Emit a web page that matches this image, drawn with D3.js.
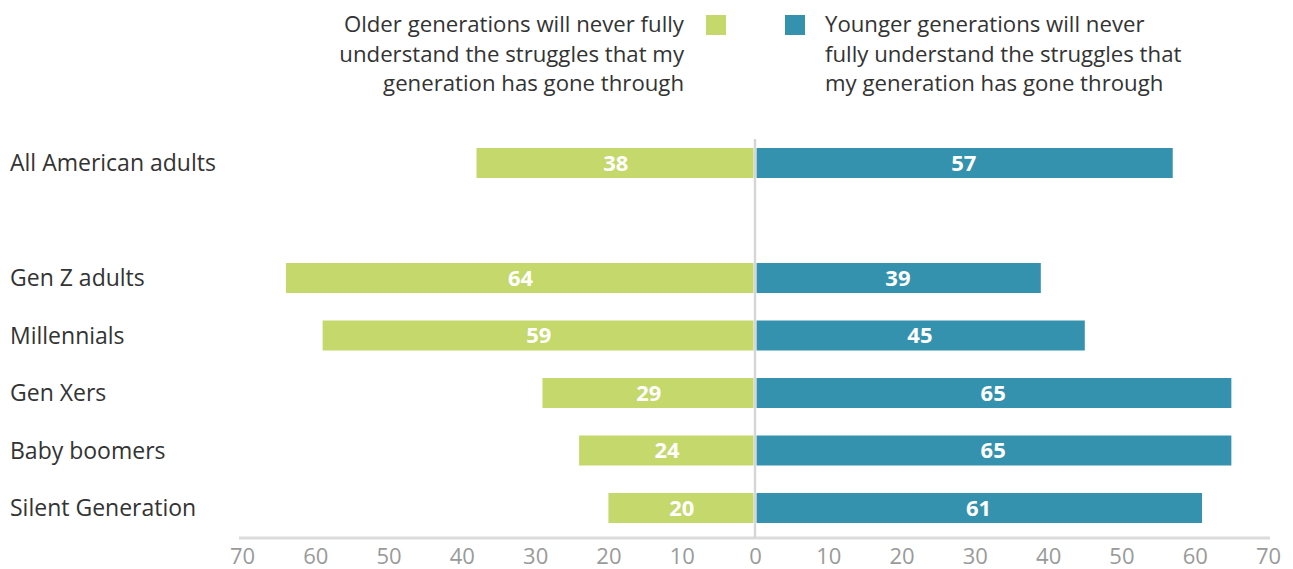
<!DOCTYPE html>
<html>
<head>
<meta charset="utf-8">
<script src="https://cdn.jsdelivr.net/npm/d3@7"></script>
<style>
  body { margin: 0; background: #fff; }
  svg { font-family: "Open Sans", "DejaVu Sans", sans-serif; }
</style>
</head>
<body>
<svg id="chart" width="1293" height="569"></svg>
<script>
// DATA
var categories = ["All American adults", "Gen Z adults", "Millennials", "Gen Xers", "Baby boomers", "Silent Generation"];
var olderValues = [38, 64, 59, 29, 24, 20];
var youngerValues = [57, 39, 45, 65, 65, 61];
var tickValues = [-70, -60, -50, -40, -30, -20, -10, 0, 10, 20, 30, 40, 50, 60, 70];
var olderLabel = ["Older generations will never fully", "understand the struggles that my", "generation has gone through"];
var youngerLabel = ["Younger generations will never", "fully understand the struggles that", "my generation has gone through"];

var green = "#c4d86b", blue = "#3592ae";

var svg = d3.select("#chart");

// slot list with an empty row after the first category
var slots = [categories[0], "__gap"].concat(categories.slice(1));

var x = d3.scaleLinear().domain([-70, 70]).range([242, 1268]);
var y = d3.scalePoint().domain(slots).range([163, 508]);
var barH = 30;
var axisY = 538;

// axis
var axis = svg.append("g")
  .attr("transform", "translate(0," + axisY + ")")
  .call(d3.axisBottom(x).tickValues(tickValues).tickSize(0).tickPadding(10)
    .tickFormat(function (d) { return Math.abs(d); }));
axis.select(".domain").remove();
axis.selectAll("text")
  .attr("fill", "#9a9a9a")
  .style("font-size", "22px")
  .style("font-family", "'Open Sans', sans-serif");
svg.append("line")
  .attr("x1", x(-70) - 3).attr("x2", x(70) + 2)
  .attr("y1", axisY).attr("y2", axisY)
  .attr("stroke", "#dcdcdc").attr("stroke-width", 3);

var rows = categories.map(function (c, i) {
  return { cat: c, older: olderValues[i], younger: youngerValues[i] };
});

// older (left) bars
svg.selectAll(".older").data(rows).enter().append("rect")
  .attr("class", "older")
  .attr("x", function (d) { return x(-d.older); })
  .attr("y", function (d) { return y(d.cat) - barH / 2; })
  .attr("width", function (d) { return x(0) - 1.5 - x(-d.older); })
  .attr("height", barH)
  .attr("fill", green);

// younger (right) bars
svg.selectAll(".younger").data(rows).enter().append("rect")
  .attr("class", "younger")
  .attr("x", x(0) + 1.5)
  .attr("y", function (d) { return y(d.cat) - barH / 2; })
  .attr("width", function (d) { return x(d.younger) - x(0) - 1.5; })
  .attr("height", barH)
  .attr("fill", blue);

// zero line
svg.append("line")
  .attr("x1", x(0)).attr("x2", x(0))
  .attr("y1", 139).attr("y2", axisY)
  .attr("stroke", "#d6d6d6").attr("stroke-width", 2.5);

// value labels
svg.selectAll(".olderLbl").data(rows).enter().append("text")
  .attr("x", function (d) { return (x(-d.older) + x(0)) / 2; })
  .attr("y", function (d) { return y(d.cat); })
  .attr("dy", "0.36em")
  .attr("text-anchor", "middle")
  .attr("fill", "#fff")
  .style("font-weight", 700)
  .style("font-size", "22px")
  .text(function (d) { return d.older; });

svg.selectAll(".youngerLbl").data(rows).enter().append("text")
  .attr("x", function (d) { return (x(d.younger) + x(0)) / 2; })
  .attr("y", function (d) { return y(d.cat); })
  .attr("dy", "0.36em")
  .attr("text-anchor", "middle")
  .attr("fill", "#fff")
  .style("font-weight", 700)
  .style("font-size", "22px")
  .text(function (d) { return d.younger; });

// category labels
svg.selectAll(".cat").data(rows).enter().append("text")
  .attr("x", 10)
  .attr("y", function (d) { return y(d.cat); })
  .attr("dy", "0.36em")
  .attr("fill", "#333")
  .style("font-size", "23px")
  .text(function (d) { return d.cat; });

// legend
svg.append("rect").attr("x", 706).attr("y", 15).attr("width", 20).attr("height", 20).attr("fill", green);
svg.append("rect").attr("x", 785).attr("y", 15).attr("width", 20).attr("height", 20).attr("fill", blue);

var lg1 = svg.append("text").attr("text-anchor", "end").attr("fill", "#333").style("font-size", "22.2px");
lg1.selectAll("tspan").data(olderLabel).enter().append("tspan")
  .attr("x", 684).attr("y", function (d, i) { return 32 + i * 29.5; })
  .text(function (d) { return d; });

var lg2 = svg.append("text").attr("fill", "#333").style("font-size", "22.2px");
lg2.selectAll("tspan").data(youngerLabel).enter().append("tspan")
  .attr("x", 825).attr("y", function (d, i) { return 32 + i * 29.5; })
  .text(function (d) { return d; });
</script>
</body>
</html>
